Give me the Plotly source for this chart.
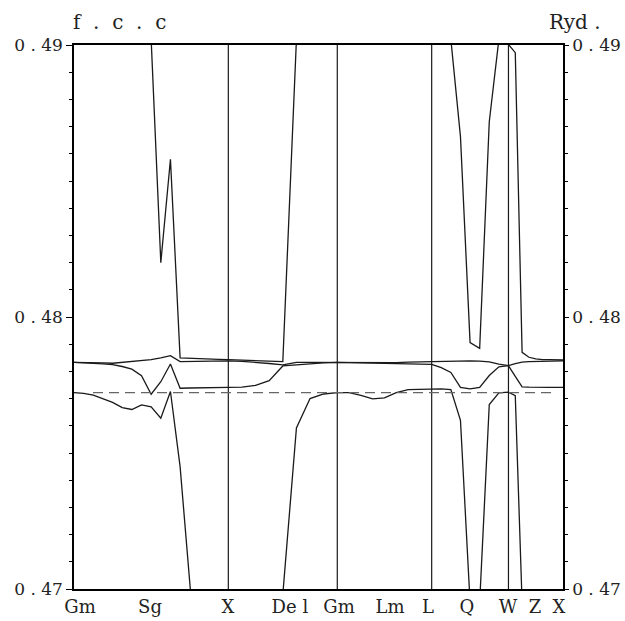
import plotly.graph_objects as go
import numpy as np

# High-symmetry points along the k-path (k units, Gamma-X = 1)
sym_names = ["Gm", "X", "Gm", "L", "W", "X"]
sym_k = [0.0, 1.429, 2.438, 3.312, 4.023, 4.528]
seg_points = [16, 8, 8, 8, 8]  # k intervals per segment

# Bottom labels (high-symmetry points and line names)
label_text = ["Gm", "Sg", "X", "De l", "Gm", "Lm", "L", "Q", "W", "Z", "X"]
label_k = [0.056, 0.704, 1.426, 1.999, 2.454, 2.926, 3.278, 3.639, 4.019, 4.269, 4.491]

fermi = 0.47722

# Band energies (Ryd) at each k-sample; None where far outside the window
band_a = [0.47722, 0.47719, 0.47713, 0.47700, 0.47686, 0.47667, 0.47660, 0.47677, 0.47670,
          0.47628, 0.47726, 0.47450, 0.46990, 0.46600, 0.46350, 0.46200, 0.46150,
          0.46200, 0.46350, 0.46600, 0.46980, 0.47592, 0.47700, 0.47717, 0.47722,
          0.47722, 0.47712, 0.47699, 0.47703, 0.47722, 0.47733, 0.47735, 0.47736,
          0.47736, 0.47733, 0.47620, 0.46950, 0.46950, 0.47678, 0.47721, 0.47724,
          0.47711, 0.46950, 0.46600, 0.46400, 0.46280, 0.46200, 0.46160, 0.46150]
band_b = [0.47833, 0.47832, 0.47830, 0.47828, 0.47825, 0.47818, 0.47808, 0.47784, 0.47716,
          0.47762, 0.47827, 0.47738, 0.47739, 0.47739, 0.47740, 0.47740, 0.47741,
          0.47742, 0.47749, 0.47766, 0.47820, 0.47824, 0.47828, 0.47831, 0.47833,
          0.47832, 0.47831, 0.47829, 0.47828, 0.47827, 0.47827, 0.47826, 0.47826,
          0.47814, 0.47796, 0.47741, 0.47736, 0.47741, 0.47785, 0.47817, 0.47821,
          0.47782, 0.47743, 0.47742, 0.47741, 0.47741, 0.47741, 0.47741, 0.47741]
band_c = [0.47833, 0.47833, 0.47832, 0.47831, 0.47830, 0.47833, 0.47836, 0.47839, 0.47843,
          0.47850, 0.47858, 0.47836, 0.47837, 0.47838, 0.47838, 0.47839, 0.47839,
          0.47837, 0.47834, 0.47829, 0.47824, 0.47833, 0.47833, 0.47833, 0.47833,
          0.47833, 0.47832, 0.47831, 0.47831, 0.47832, 0.47834, 0.47835, 0.47837,
          0.47838, 0.47839, 0.47839, 0.47839, 0.47838, 0.47835, 0.47827, 0.47821,
          0.47829, 0.47834, 0.47836, 0.47837, 0.47838, 0.47838, 0.47839, 0.47839]
band_d = [None, None, None, None, None, None, None, 0.49950, 0.49020,
          0.48200, 0.48580, 0.47850, 0.47848, 0.47846, 0.47845, 0.47844, 0.47843,
          0.47841, 0.47840, 0.47838, 0.47836, 0.49020, None, None, None,
          None, None, None, None, None, None, None, None,
          None, 0.49020, 0.48663, 0.47906, 0.47885, 0.48718, 0.49020, 0.49002,
          0.48972, 0.47870, 0.47852, 0.47846, 0.47843, 0.47843, 0.47842, 0.47842]

# k-grid (uniform within each segment)
k = [sym_k[0]]
for i, n in enumerate(seg_points):
    k.extend(np.linspace(sym_k[i], sym_k[i + 1], n + 1)[1:].tolist())

fig = go.Figure()
for band in [band_a, band_b, band_c, band_d]:
    fig.add_trace(go.Scatter(x=k, y=band, mode="lines", showlegend=False,
                             line=dict(color="#1a1a1a", width=1.3),
                             connectgaps=False, hoverinfo="skip"))
# invisible trace for right axis
fig.add_trace(go.Scatter(x=[sym_k[0]], y=[fermi], yaxis="y2", mode="markers",
                         marker=dict(opacity=0), showlegend=False, hoverinfo="skip"))

shapes = []
for kk in sym_k[1:-1]:
    shapes.append(dict(type="line", xref="x", yref="paper", x0=kk, x1=kk, y0=0, y1=1,
                       line=dict(color="#1a1a1a", width=1.2)))
shapes.append(dict(type="line", xref="x", yref="y", x0=0.176, x1=4.472, y0=fermi, y1=fermi,
                   line=dict(color="#666666", width=1.2, dash="10px,6px")))

font_family = "DejaVu Serif"
yticks = [0.47, 0.48, 0.49]
ytext = ["0 . 47", "0 . 48", "0 . 49"]
yax = dict(range=[0.47, 0.49], tickmode="array", tickvals=yticks, ticktext=ytext,
           ticks="outside", ticklen=6, tickwidth=1.3, tickcolor="black",
           showline=True, linewidth=1.5, linecolor="black", showgrid=False, zeroline=False,
           ticklabelstandoff=0, automargin=False,
           tickfont=dict(family=font_family, size=17, color="#222"),
           minor=dict(ticks="outside", ticklen=3, tickwidth=1, tickcolor="black",
                      tick0=0.47, dtick=0.001, showgrid=False))
yax2 = dict(yax, overlaying="y", side="right", ticklen=4)

fig.update_layout(
    width=625, height=621,
    margin=dict(l=74, r=62, t=45, b=32),
    paper_bgcolor="white", plot_bgcolor="white",
    xaxis=dict(range=[sym_k[0], sym_k[-1]], tickmode="array", tickvals=label_k,
               ticktext=label_text, ticks="", showline=True, mirror=True, linewidth=2,
               linecolor="black", showgrid=False, zeroline=False, ticklabelstandoff=0,
               automargin=False,
               tickfont=dict(family=font_family, size=18, color="#222")),
    yaxis=yax,
    yaxis2=yax2,
    shapes=shapes,
    annotations=[
        dict(text="f\u00a0\u00a0.\u00a0\u00a0c\u00a0\u00a0.\u00a0\u00a0c", xref="paper", yref="paper",
             x=0, y=1, xanchor="left", yanchor="bottom", xshift=-3, yshift=9, showarrow=False,
             font=dict(family=font_family, size=20, color="#222")),
        dict(text="Ryd\u00a0.", xref="paper", yref="paper", x=1, y=1, xanchor="left",
             yanchor="bottom", xshift=-16, yshift=9, showarrow=False,
             font=dict(family=font_family, size=20, color="#222")),
    ],
)

# remove the page's default body margin so the figure fills the window exactly
fig.write_html("out.html", config={"displayModeBar": False},
               post_script="document.body.style.margin='0';document.body.style.overflow='hidden';")
